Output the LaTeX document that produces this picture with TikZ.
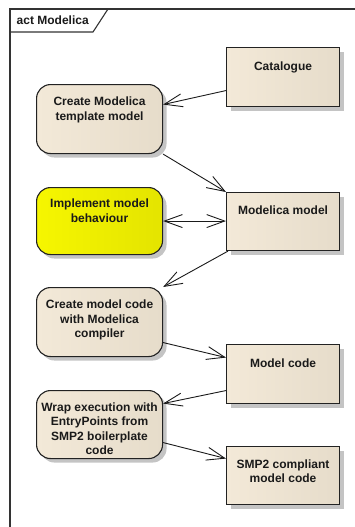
\documentclass[tikz,border=0pt]{standalone}
\usepackage{fontspec}
\setmainfont{Liberation Sans}
\usetikzlibrary{arrows.meta,shadows,calc}
\definecolor{frameline}{HTML}{333333}
\definecolor{boxline}{HTML}{222222}
\definecolor{beigeL}{HTML}{F3E9D8}
\definecolor{beigeM}{HTML}{FAF2E5}
\definecolor{beigeR}{HTML}{E6DCCA}
\definecolor{yelL}{HTML}{F6F600}
\definecolor{yelM}{HTML}{FFFF22}
\definecolor{yelR}{HTML}{E4E400}
\definecolor{shade}{HTML}{C4C4C4}
\definecolor{ink}{HTML}{1A1A1A}
\tikzset{
  boxshadow/.style={drop shadow={shadow xshift=4pt,shadow yshift=-4pt,fill=shade,opacity=1}},
  objbox/.style={draw=boxline,line width=1.1pt,left color=beigeL,middle color=beigeM,right color=beigeR,
    boxshadow,inner sep=0pt,anchor=north west},
  actbox/.style={objbox,rounded corners=14pt},
  yelbox/.style={actbox,left color=yelL,middle color=yelM,right color=yelR},
  txt/.style={anchor=north,inner sep=0pt,align=center,text=ink,
    font=\fontsize{12}{14.4}\selectfont\bfseries},
  flow/.style={draw=ink,line width=0.9pt,-{Straight Barb[length=18pt,width=13pt,line width=0.9pt]}},
  flow2/.style={draw=ink,line width=0.9pt,{Straight Barb[length=18pt,width=13pt,line width=0.9pt]}-{Straight Barb[length=18pt,width=13pt,line width=0.9pt]}}
}
\begin{document}
\begin{tikzpicture}[x=1pt,y=-1pt]
\useasboundingbox (0,0) rectangle (355,527);
% diagram frame and its name tab
\draw[frameline,line width=1.2pt] (365,9) -- (10,9) -- (10,540);
\draw[frameline,line width=1.1pt] (10,32) -- (93,32) -- (108,9);
\node[anchor=west,inner sep=0pt,text=ink,font=\fontsize{12}{14}\selectfont\bfseries] (title) at (16.5,20.5) {act Modelica};

% actions
\node[actbox,minimum width=126pt,minimum height=69pt] (tmpl) at (36,84) {};
\node[yelbox,minimum width=126pt,minimum height=67pt] (impl) at (36,187) {};
\node[actbox,minimum width=126pt,minimum height=69pt] (ccode) at (36,287) {};
\node[actbox,minimum width=126pt,minimum height=68pt] (wrap) at (36,390) {};

% objects
\node[objbox,minimum width=113pt,minimum height=59pt] (cat) at (226,47) {};
\node[objbox,minimum width=113pt,minimum height=58pt] (mm) at (226,192) {};
\node[objbox,minimum width=113pt,minimum height=59pt] (mcode) at (226,344) {};
\node[objbox,minimum width=113pt,minimum height=58pt] (smp) at (226,446) {};

% labels
\node[txt] (tmplT) at ([yshift=-13pt]tmpl.north) {Create Modelica\\template model};
\node[txt] (implT) at ([yshift=-12pt]impl.north) {Implement model\\behaviour};
\node[txt] (ccodeT) at ([yshift=-13pt]ccode.north) {Create model code\\with Modelica\\compiler};
\node[txt] (wrapT) at ([yshift=-12.5pt]wrap.north) {Wrap execution with\\EntryPoints from\\SMP2 boilerplate\\code};
\node[txt] (catT) at ([yshift=-14.5pt]cat.north) {Catalogue};
\node[txt] (mmT) at ([yshift=-13.5pt]mm.north) {Modelica model};
\node[txt] (mcodeT) at ([yshift=-14.5pt]mcode.north) {Model code};
\node[txt] (smpT) at ([yshift=-13.5pt]smp.north) {SMP2 compliant\\model code};

% object flows
\draw[flow] ([yshift=-13.5pt]cat.west) -- ([yshift=14.5pt]tmpl.east);
\draw[flow] (tmpl.south east) -- (mm.north west);
\draw[flow2] (impl.east) -- (impl.east -| mm.west);
\draw[flow] ([xshift=2pt]mm.south west) -- (ccode.north east);
\draw[flow] ([yshift=-20.5pt]ccode.east) -- ([yshift=16.5pt]mcode.west);
\draw[flow] ([yshift=-16.5pt]mcode.west) -- ([yshift=21pt]wrap.east);
\draw[flow] ([yshift=-18pt]wrap.east) -- ([yshift=17pt]smp.west);
\end{tikzpicture}
\end{document}
